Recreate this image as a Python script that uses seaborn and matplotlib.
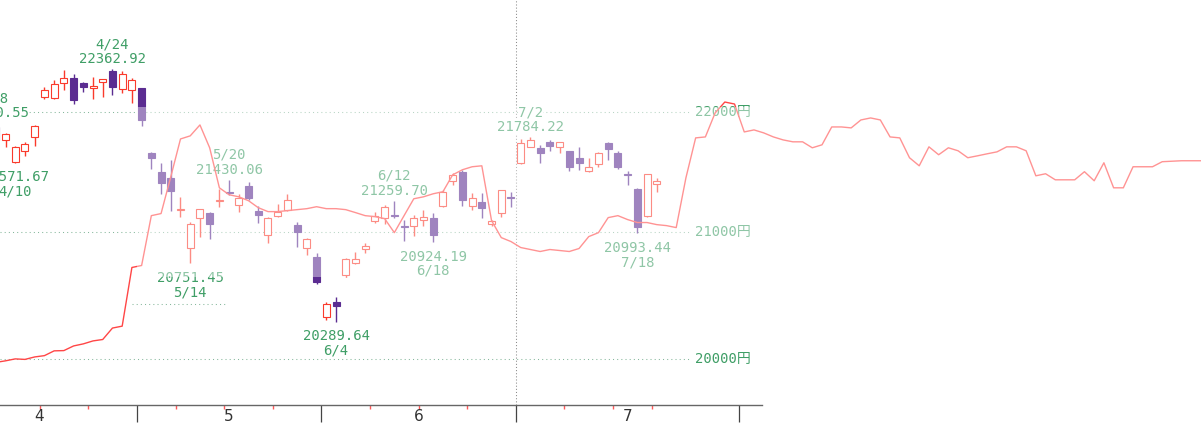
import matplotlib
matplotlib.use("Agg")
import matplotlib.pyplot as plt
from matplotlib.ticker import NullLocator
import numpy as np
import pandas as pd
import seaborn as sns

# ---------------- data ----------------
# trading-day index: 0 = 2019-04-01
day_idx = list(range(5, 74))
open_ = [21870, 21762, 21580, 21671, 21787, 22124, 22116, 22244, 22287, 22244,
         22201, 22253, 22350, 22193, 22184, 22201, 21654, 21497, 21447, 21180,
         20878, 21120, 21161, 21258, 21332, 21225, 21381, 21177, 20982, 21136,
         21185, 21063, 20878, 20798, 20325, 20443, 20662, 20750, 20870, 21096,
         21120, 21140, 21050, 21055, 21104, 21120, 21217, 21422, 21497, 21217,
         21250, 21072, 21161, 21286, 21571, 21704, 21696, 21746, 21704, 21671,
         21613, 21505, 21563, 21737, 21654, 21476, 21356, 21136, 21397]
high = [21900.55, 21821, 21712, 21746, 21885, 22210, 22270, 22355, 22321, 22253,
        22296, 22279, 22362.92, 22347, 22287, 22201, 21662, 21571, 21596, 21290,
        21088, 21193, 21169, 21356, 21430.06, 21315, 21414, 21217, 21128, 21233,
        21315, 21088, 20958, 20830, 20443, 20482, 20790, 20846, 20918, 21169,
        21225, 21259.70, 21104, 21145, 21185, 21161, 21348, 21488, 21513, 21323,
        21323, 21104, 21348, 21332, 21771, 21784.22, 21721, 21762, 21746, 21671,
        21704, 21613, 21662, 21746, 21671, 21505, 21364, 21480, 21447]
low = [21740, 21704, 21571.67, 21629, 21712, 22107, 22107, 22184, 22065, 22167,
       22107, 22124, 22141, 22158, 22073, 21880, 21521, 21315, 21177, 21128,
       20751.45, 20966, 20950, 21209, 21307, 21169, 21266, 21080, 20918, 21128,
       21177, 20886, 20814, 20583, 20302, 20289.64, 20646, 20742, 20830, 21080,
       21072, 21120, 20934, 20974, 21055, 20924.19, 21209, 21389, 21217, 21185,
       21120, 21055, 21128, 21209, 21563, 21700, 21571, 21671, 21654, 21505,
       21513, 21497, 21538, 21596, 21521, 21389, 20993.44, 21128, 21332]
close = [21761, 21812, 21704, 21729, 21880, 22184, 22236, 22287, 22099, 22210,
         22219, 22279, 22210, 22321, 22270, 21930, 21613, 21406, 21340, 21189,
         21072, 21193, 21072, 21266, 21320, 21282, 21282, 21145, 21120, 21169,
         21266, 21006, 20950, 20599, 20427, 20412, 20782, 20782, 20894, 21136,
         21209, 21132, 21042, 21120, 21128, 20982, 21332, 21471, 21266, 21282,
         21201, 21096, 21348, 21278, 21737, 21762, 21654, 21712, 21746, 21538,
         21571, 21538, 21654, 21687, 21538, 21468, 21046, 21480, 21422]

# red span line (day index 5 .. 129)
line_idx = list(range(5, 130))
line_vals = [19974, 19986, 20001, 19997, 20016, 20026, 20063, 20065, 20101, 20117,
             20140, 20151, 20240, 20255, 20718, 20734, 21136, 21153, 21455, 21770,
             21796, 21888, 21696, 21364, 21307, 21290, 21258, 21201, 21169, 21169,
             21177, 21185, 21193, 21209, 21193, 21193, 21185, 21161, 21136, 21128,
             21112, 20998, 21136, 21274, 21290, 21315, 21332, 21471, 21513, 21538,
             21546, 21096, 20958, 20926, 20878, 20862, 20846, 20862, 20854, 20846,
             20870, 20966, 20998, 21120, 21136, 21104, 21080, 21080, 21063, 21055,
             21039, 21447, 21779, 21787, 21989, 22082, 22065, 21829, 21846, 21821,
             21787, 21762, 21746, 21746, 21696, 21721, 21871, 21871, 21863, 21930,
             21947, 21930, 21787, 21779, 21613, 21546, 21704, 21638, 21696, 21671,
             21613, 21629, 21646, 21662, 21704, 21704, 21671, 21463, 21480, 21430,
             21430, 21430, 21497, 21422, 21571, 21364, 21364, 21538, 21538, 21538,
             21580, 21584, 21588, 21588, 21588]

# annotated highs / lows
label_idx = [5, 7, 17, 25, 29, 40, 46, 50, 60, 71]
label_kind = ["high", "low", "high", "low", "high", "low", "high", "low", "high", "low"]
label_dates = ["4/8", "4/10", "4/24", "5/14", "5/20", "6/4", "6/12", "6/18", "7/2", "7/18"]

# price grid
grid_levels = [20000, 21000, 22000]
guide_level = 20427

# months on the x axis
month_labels = ["4", "5", "6", "7"]
month_first = [0, 20, 39, 59]
month_last = [19, 38, 58, 81]
week_breaks = [9.5, 14.5, 23.5, 28.5, 33.5, 43.5, 48.5, 53.5, 63.5, 68.5, 72.5]

# highlighted price zone
band_low, band_high = 20642, 22040

# ---------------- style ----------------
sns.set_theme(style="white")
plt.rcParams["font.family"] = ["DejaVu Sans Mono", "Noto Sans CJK JP"]

RED = "#fa3a2c"
PURPLE = "#5b2c91"
GREEN = "#3f9e66"
GRID = "#86b89c"

W, H = 1201, 437
fig = plt.figure(figsize=(W / 100, H / 100), dpi=100)
fig.patch.set_facecolor("white")
ax = fig.add_axes([0, 32 / H, 1, 405 / H])
ax.set_facecolor("white")
ax.set_yscale("log")
XMIN, XMAX = 5.43, 128.99
ax.set_xlim(XMIN, XMAX)
ax.set_ylim(19648.7, 22967.5)
ax.yaxis.set_major_locator(NullLocator())
ax.yaxis.set_minor_locator(NullLocator())
ax.tick_params(axis="y", which="both", left=False, right=False, labelleft=False)

for s in ["top", "left", "right"]:
    ax.spines[s].set_visible(False)
ax.spines["bottom"].set_color("#666666")
ax.spines["bottom"].set_linewidth(1.0)
ax.spines["bottom"].set_bounds(XMIN, 83.8)

month_breaks = [l + 0.5 for l in month_last]
ax.set_xticks(month_breaks)
ax.set_xticks(week_breaks, minor=True)
ax.set_xticklabels([])
ax.tick_params(axis="x", which="major", length=12.5, width=0.9, color="#444444",
               direction="out", bottom=True, labelbottom=False)
ax.tick_params(axis="x", which="minor", length=3, width=1.0, color="#ff5a5a",
               direction="out", bottom=True)
for lbl, a, b in zip(month_labels, month_first, month_last):
    ax.annotate(lbl, xy=((a + b) / 2, 0), xycoords=("data", "axes fraction"),
                xytext=(0, -8), textcoords="offset points", ha="center", va="center",
                fontsize=11, color="#333333", family="DejaVu Sans", annotation_clip=False)

# grid lines and labels
GRID_END = 76.4
ax.hlines(grid_levels, XMIN, GRID_END, colors=GRID, linewidth=0.75,
          linestyles=[(0, (1, 3))], zorder=1)
for lv in grid_levels:
    ax.text(76.9, lv, f"{lv}円", ha="left", va="center", fontsize=10, color=GREEN,
            zorder=5)
ax.hlines([guide_level], 19.0, 28.6, colors=GRID, linewidth=0.75,
          linestyles=[(0, (1, 3))], zorder=1)
ax.axvline(month_breaks[2], color="#8a8a8a", linewidth=0.75, linestyle=(0, (1, 2)),
           zorder=1)

# candles
df = pd.DataFrame({"idx": day_idx, "open": open_, "high": high, "low": low, "close": close})
up = df["close"] >= df["open"]
dn = ~up
ax.vlines(df.loc[up, "idx"], df.loc[up, "low"], df.loc[up, "high"], colors=RED,
          linewidth=1.0, zorder=3)
ax.vlines(df.loc[dn, "idx"], df.loc[dn, "low"], df.loc[dn, "high"], colors=PURPLE,
          linewidth=1.0, zorder=3)
ax.bar(df.loc[up, "idx"], (df["close"] - df["open"])[up], bottom=df.loc[up, "open"],
       width=0.72, facecolor="white", edgecolor=RED, linewidth=0.8, zorder=4)
ax.bar(df.loc[dn, "idx"], (df["open"] - df["close"])[dn], bottom=df.loc[dn, "close"],
       width=0.72, facecolor=PURPLE, edgecolor=PURPLE, linewidth=0.8, zorder=4)

# red line
sns.lineplot(x=line_idx, y=line_vals, ax=ax, color="#ff4646", linewidth=1.0,
             zorder=6, legend=False)

# high / low annotations
pos = {d: i for i, d in enumerate(day_idx)}
for di, kind, dt in zip(label_idx, label_kind, label_dates):
    r = pos[di]
    if kind == "high":
        v = high[r]
        offs_val, offs_date = 4.3, 15.0
    else:
        v = low[r]
        offs_val, offs_date = -13.5, -23.8
    for txt, off in ((f"{v:.2f}", offs_val), (dt, offs_date)):
        ax.annotate(txt, xy=(di, v), xytext=(0, off), textcoords="offset points",
                    ha="center", va="baseline", fontsize=10, color=GREEN, zorder=5,
                    annotation_clip=False,
                    bbox=dict(boxstyle="square,pad=0", facecolor="white",
                              edgecolor="none"))

# light overlay zone
ax.axhspan(band_low, band_high, xmin=(19.5 - XMIN) / (XMAX - XMIN), xmax=1,
           facecolor="white", alpha=0.42, linewidth=0, zorder=20)

ax.set_xlabel("")
ax.set_ylabel("")
fig.savefig("out.png", dpi=100, facecolor="white")
